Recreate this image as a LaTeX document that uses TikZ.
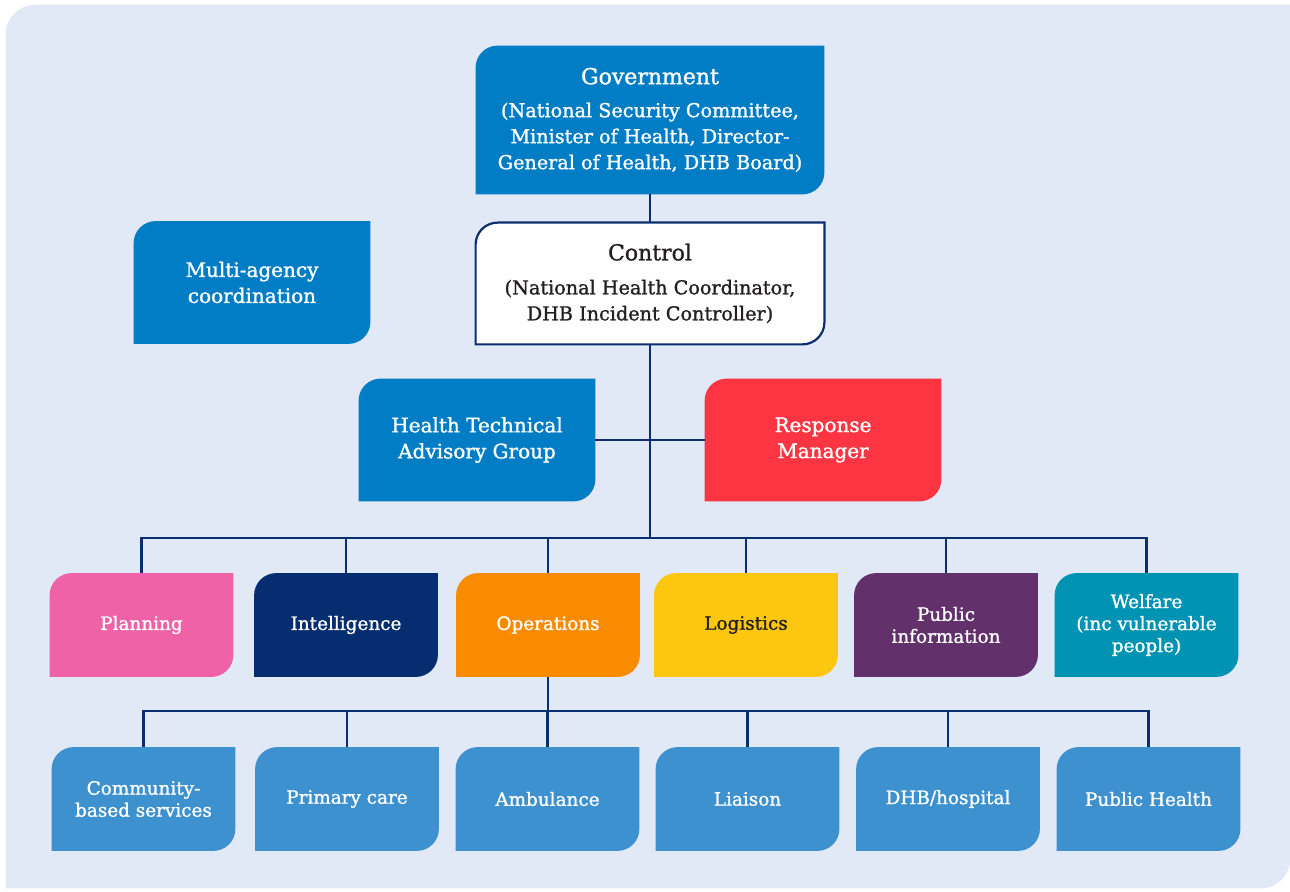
\documentclass[tikz,border=0pt]{standalone}
\usepackage{fontspec}
\setmainfont{DejaVu Serif}[FakeBold=1.2]
\usetikzlibrary{backgrounds}

\definecolor{panelbg}{HTML}{E1E9F6}
\definecolor{linenavy}{HTML}{0B2E6F}
\definecolor{govblue}{HTML}{007DC5}
\definecolor{respred}{HTML}{FD3441}
\definecolor{planpink}{HTML}{F062A8}
\definecolor{intelnavy}{HTML}{062D6F}
\definecolor{opsorange}{HTML}{F98B00}
\definecolor{logyellow}{HTML}{FDC70F}
\definecolor{infopurple}{HTML}{62306B}
\definecolor{welfteal}{HTML}{0093B3}
\definecolor{unitblue}{HTML}{3D91CF}
\definecolor{txtdark}{HTML}{231F20}

\newcommand{\cornerbox}[3][11pt]{%
  \path[#3] (#2.south west) -- ([yshift=-#1]#2.north west)
    arc[start angle=180,end angle=90,radius=#1] -- (#2.north east)
    -- ([yshift=#1]#2.south east) arc[start angle=0,end angle=-90,radius=#1] -- cycle;}

\begin{document}
\begin{tikzpicture}[x=0.5pt,y=-0.5pt,
    every node/.style={align=center,inner sep=0pt,text=white},
    topbox/.style={minimum width=174pt,font=\fontsize{9.6}{13}\selectfont},
    midbox/.style={minimum width=118pt,minimum height=61pt,font=\fontsize{10}{13}\selectfont},
    leaf/.style={minimum width=91.5pt,minimum height=51.5pt,font=\fontsize{9.2}{11}\selectfont},
    link/.style={draw=linenavy,line width=1.3pt}]

    \useasboundingbox (0,0) rectangle (1290,892);
    \node[minimum width=642pt,minimum height=441.5pt] (panel) at (648,446.5) {};

    \node[topbox,minimum height=74pt] (gov) at (650,120)
        {{\fontsize{11}{13}\selectfont Government}\\[3.5pt]
         (National Security Committee,\\Minister of Health, Director-\\General of Health, DHB Board)};
    \node[topbox,minimum height=60.5pt,text=txtdark] (ctl) at (650,283.5)
        {{\fontsize{11}{13}\selectfont Control}\\[4pt]
         (National Health Coordinator,\\DHB Incident Controller)};

    \node[midbox] (mac) at (252,282.5) {Multi-agency\\coordination};
    \node[midbox] (htag) at (477,440) {Health Technical\\Advisory Group};
    \node[midbox] (rm) at (823,440) {Response\\Manager};

    \foreach \n/\x/\c/\t in {plan/141.5/white/Planning,intel/346/white/Intelligence,
        ops/548/white/Operations,logi/746/txtdark/Logistics,
        pubinfo/946/white/{Public\\information},welf/1146.5/white/{Welfare\\(inc vulnerable\\people)}}
    {
        \node[leaf,text=\c] (\n) at (\x,625) {\t};
    }

    \foreach \n/\x/\t in {comm/143.5/{Community-\\based services},prim/347/Primary care,
        amb/547.5/Ambulance,liai/747.5/Liaison,hosp/948/{DHB/hospital},pubh/1148.5/Public Health}
    {
        \node[leaf] (\n) at (\x,799) {\t};
    }

    \coordinate (bus1) at (650,538);
    \coordinate (bus2) at (548,711);

    \draw[link] (gov) -- (ctl);
    \draw[link] (ctl) -- (bus1);
    \draw[link] (htag) -- (rm);
    \foreach \n in {plan,intel,ops,logi,pubinfo,welf}
        \draw[link] (bus1) -| (\n);
    \draw[link] (ops) -- (bus2);
    \foreach \n in {comm,prim,amb,liai,hosp,pubh}
        \draw[link] (bus2) -| (\n);

    \begin{scope}[on background layer]
        \cornerbox[15pt]{panel}{fill=panelbg}
        \foreach \n/\c in {gov/govblue,mac/govblue,htag/govblue,rm/respred,
            plan/planpink,intel/intelnavy,ops/opsorange,logi/logyellow,pubinfo/infopurple,welf/welfteal,
            comm/unitblue,prim/unitblue,amb/unitblue,liai/unitblue,hosp/unitblue,pubh/unitblue}
            \cornerbox{\n}{fill=\c};
        \cornerbox{ctl}{fill=white,draw=linenavy,line width=1.1pt}
    \end{scope}
\end{tikzpicture}
\end{document}
